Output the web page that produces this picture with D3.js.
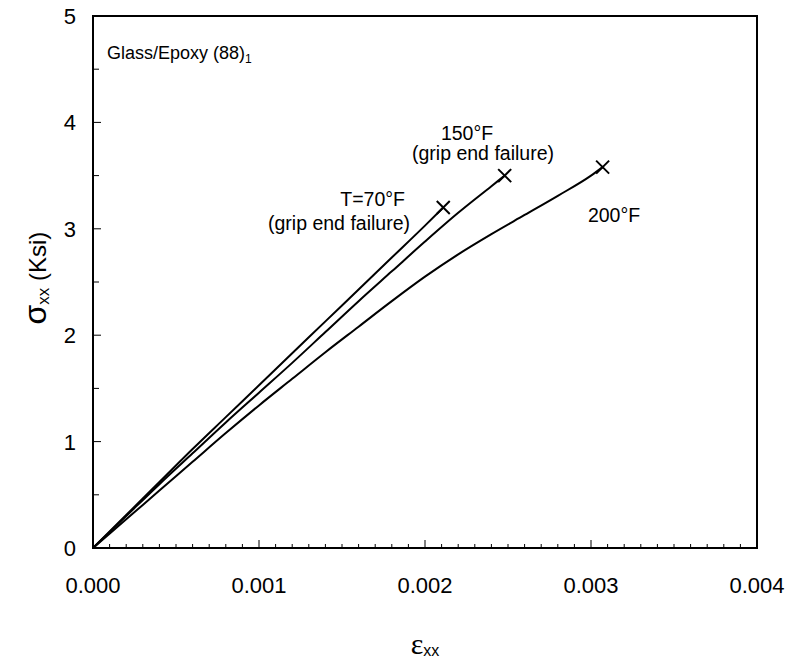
<!DOCTYPE html>
<html>
<head>
<meta charset="utf-8">
<script src="https://cdn.jsdelivr.net/npm/d3@7"></script>
<style>
  body { margin: 0; background: #fff; }
  svg { display: block; font-family: "Liberation Sans", Arial, Helvetica, sans-serif; }
</style>
</head>
<body>
<svg id="chart" width="793" height="665"></svg>
<script>
// ---- data ----
const strain70  = [0, 0.0002, 0.0004, 0.0006, 0.0008, 0.0010, 0.0012, 0.0014, 0.0016, 0.0018, 0.0020, 0.00211];
const stress70  = [0, 0.31,   0.62,   0.93,   1.23,   1.53,   1.83,   2.13,   2.43,   2.73,   3.03,   3.20];
const strain150 = [0, 0.0002, 0.0004, 0.0006, 0.0008, 0.0010, 0.0012, 0.0014, 0.0016, 0.0018, 0.0020, 0.0022, 0.0024, 0.00248];
const stress150 = [0, 0.30,   0.60,   0.89,   1.18,   1.46,   1.74,   2.03,   2.32,   2.60,   2.88,   3.15,   3.40,   3.50];
const strain200 = [0, 0.0002, 0.0004, 0.0006, 0.0008, 0.0010, 0.0012, 0.0014, 0.0016, 0.0018, 0.0020, 0.0022, 0.0024, 0.0026, 0.0028, 0.0030, 0.00307];
const stress200 = [0, 0.27,   0.54,   0.81,   1.08,   1.34,   1.59,   1.84,   2.08,   2.32,   2.55,   2.76,   2.95,   3.13,   3.31,   3.50,   3.58];
const xTickValues = [0, 0.001, 0.002, 0.003, 0.004];
const xTickLabels = ["0.000", "0.001", "0.002", "0.003", "0.004"];
const yTickValues = [0, 1, 2, 3, 4, 5];
const yTickLabels = ["0", "1", "2", "3", "4", "5"];
const seriesNames = ["T=70°F", "150°F", "200°F"];

const series = [
  { xs: strain70, ys: stress70 },
  { xs: strain150, ys: stress150 },
  { xs: strain200, ys: stress200 }
];

// ---- layout ----
const svg = d3.select("#chart");
const L = 93, R = 757, T = 16, B = 548;
const x = d3.scaleLinear().domain([0, 0.004]).range([L, R]);
const y = d3.scaleLinear().domain([0, 5]).range([B, T]);

// minor ticks (inward)
const g = svg.append("g");
const xMinor = d3.range(0, 41).map(i => i * 0.0001);
g.selectAll("line.xm").data(xMinor).enter().append("line")
  .attr("x1", d => x(d)).attr("x2", d => x(d))
  .attr("y1", B).attr("y2", (d, i) => B - (i % 10 === 0 ? 8 : 4))
  .attr("stroke", "#000").attr("stroke-width", 1);
const yMinor = d3.range(0, 11).map(i => i * 0.5);
g.selectAll("line.ym").data(yMinor).enter().append("line")
  .attr("x1", L).attr("x2", (d, i) => L + (i % 2 === 0 ? 8 : 6))
  .attr("y1", d => y(d)).attr("y2", d => y(d))
  .attr("stroke", "#000").attr("stroke-width", 1);

// frame
svg.append("rect").attr("x", L).attr("y", T).attr("width", R - L).attr("height", B - T)
  .attr("fill", "none").attr("stroke", "#000").attr("stroke-width", 2);

// tick labels
svg.selectAll("text.xt").data(xTickValues).enter().append("text")
  .attr("x", d => x(d)).attr("y", B + 45)
  .attr("text-anchor", "middle").attr("font-size", 22).attr("fill", "#000")
  .text((d, i) => xTickLabels[i]);
svg.selectAll("text.yt").data(yTickValues).enter().append("text")
  .attr("x", L - 17).attr("y", d => y(d)).attr("dy", "0.36em")
  .attr("text-anchor", "end").attr("font-size", 22).attr("fill", "#000")
  .text((d, i) => yTickLabels[i]);

// curves
const line = d3.line().x(d => x(d[0])).y(d => y(d[1])).curve(d3.curveMonotoneX);
series.forEach(s => {
  const pts = s.xs.map((v, i) => [v, s.ys[i]]);
  svg.append("path").datum(pts).attr("d", line)
    .attr("fill", "none").attr("stroke", "#000").attr("stroke-width", 2);
  const last = pts[pts.length - 1];
  const cx = x(last[0]), cy = y(last[1]), r = 6.5;
  svg.append("path")
    .attr("d", `M${cx - r},${cy - r}L${cx + r},${cy + r}M${cx - r},${cy + r}L${cx + r},${cy - r}`)
    .attr("stroke", "#000").attr("stroke-width", 2).attr("fill", "none");
});

// annotations
const ann = svg.append("g").attr("font-size", 19.5).attr("fill", "#000");
ann.append("text").attr("x", 405).attr("y", 206).attr("text-anchor", "end").text(seriesNames[0]);
ann.append("text").attr("x", 339).attr("y", 230).attr("text-anchor", "middle").text("(grip end failure)");
ann.append("text").attr("x", 467).attr("y", 140).attr("text-anchor", "middle").text(seriesNames[1]);
ann.append("text").attr("x", 483).attr("y", 160).attr("text-anchor", "middle").text("(grip end failure)");
ann.append("text").attr("x", 614).attr("y", 222).attr("text-anchor", "middle").text(seriesNames[2]);

// material label
const mt = svg.append("text").attr("x", 107).attr("y", 59).attr("font-size", 18).attr("fill", "#000");
mt.append("tspan").text("Glass/Epoxy (88)");
mt.append("tspan").attr("font-size", 12).attr("dy", 4).text("1");

// axis titles
const xt = svg.append("text").attr("x", (L + R) / 2).attr("y", 654).attr("text-anchor", "middle").attr("fill", "#000");
xt.append("tspan").attr("font-size", 30).attr("font-family", "'Liberation Serif', serif").text("ε");
xt.append("tspan").attr("font-size", 16).attr("dy", 2).text("xx");

const yt = svg.append("text").attr("transform", "translate(46,278) rotate(-90)")
  .attr("text-anchor", "middle").attr("fill", "#000");
yt.append("tspan").attr("font-size", 32).text("σ");
yt.append("tspan").attr("font-size", 17).attr("dy", 3).text("xx");
yt.append("tspan").attr("font-size", 24).attr("dy", -3).text(" (Ksi)");
</script>
</body>
</html>
